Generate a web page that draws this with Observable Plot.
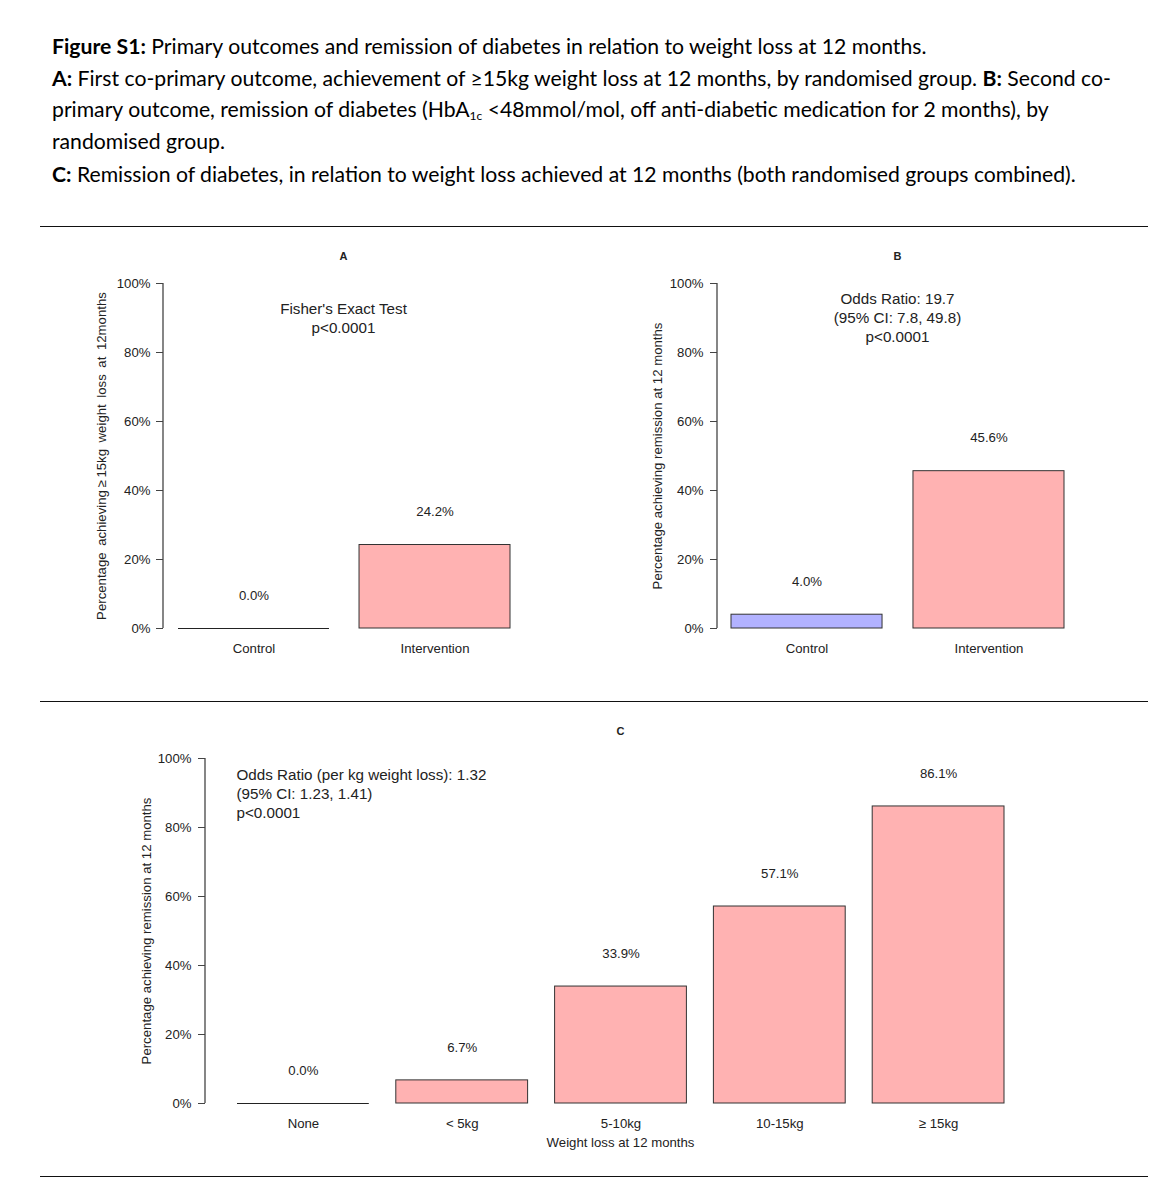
<!DOCTYPE html>
<html>
<head>
<meta charset="utf-8">
<script src="https://cdn.jsdelivr.net/npm/d3@7"></script>
<script src="https://cdn.jsdelivr.net/npm/@observablehq/plot@0.6"></script>
<style>
  html, body { margin: 0; padding: 0; background: #fff; }
  #page { position: relative; width: 1155px; height: 1179px; overflow: hidden; background: #fff; }
  #header { position: absolute; left: 52px; top: 31px; font-family: Lato, "Open Sans", sans-serif; font-size: 21.2px; line-height: 31.5px; color: #000; white-space: nowrap; }
  #header b { font-weight: 700; }
  #header .gap { height: 2px; }
  #header sub { font-size: 12px; vertical-align: -3px; line-height: 0; }
  .rule { position: absolute; left: 40px; width: 1108px; height: 0; border-top: 1.5px solid #111; }
  .panel { position: absolute; }
</style>
</head>
<body>
<div id="page">
  <div id="header">
    <div><b>Figure S1:</b> Primary outcomes and remission of diabetes in relation to weight loss at 12 months.</div>
    <div><b>A:</b> First co-primary outcome, achievement of ≥15kg weight loss at 12 months, by randomised group. <b>B:</b> Second co-</div>
    <div>primary outcome, remission of diabetes (HbA<sub>1c</sub> &lt;48mmol/mol, off anti-diabetic medication for 2 months), by</div>
    <div>randomised group.</div>
    <div class="gap"></div>
    <div><b>C:</b> Remission of diabetes, in relation to weight loss achieved at 12 months (both randomised groups combined).</div>
  </div>
  <div class="rule" style="top:226px"></div>
  <div class="rule" style="top:701px"></div>
  <div class="rule" style="top:1176px"></div>
  <div class="panel" id="pA" style="left:0px; top:230px"></div>
  <div class="panel" id="pB" style="left:578px; top:230px"></div>
  <div class="panel" id="pC" style="left:0px; top:705px"></div>
</div>
<script>
// ---- data ----
const groups = ["Control", "Intervention"];
const pctA = [0.0, 24.2];
const pctB = [4.0, 45.6];
const weightCats = ["None", "< 5kg", "5-10kg", "10-15kg", "\u2265 15kg"];
const pctC = [0.0, 6.7, 33.9, 57.1, 86.1];
const yTicks = [0, 20, 40, 60, 80, 100];
const titleYA = "Percentage\u2002achieving\u2009\u2265\u200915kg\u2002weight\u2002loss\u2002at\u200212months";
const titleYB = "Percentage achieving remission at 12 months";
const titleYC = "Percentage achieving remission at 12 months";
const titleXC = "Weight loss at 12 months";
const annA = "Fisher's Exact Test\np<0.0001";
const annB = "Odds Ratio: 19.7\n(95% CI: 7.8, 49.8)\np<0.0001";
const annC = "Odds Ratio (per kg weight loss): 1.32\n(95% CI: 1.23, 1.41)\np<0.0001";

const PINK = "#FFB2B2";
const BLUE = "#B2B2FF";
const FONT = "'Liberation Sans', Arial, Helvetica, sans-serif";
const FS = 13.2;

function rows(cats, vals) { return cats.map((c, i) => ({cat: c, pct: vals[i]})); }
const dataA = rows(groups, pctA);
const dataB = rows(groups, pctB);
const dataC = rows(weightCats, pctC);

// y-axis line drawn from the y scale (0% to 100%) at the left edge of the frame
function yAxisLine(index, scales, values, dimensions) {
  const y = scales.y;
  const x0 = dimensions.marginLeft;
  const line = document.createElementNS("http://www.w3.org/2000/svg", "line");
  line.setAttribute("x1", x0); line.setAttribute("x2", x0);
  line.setAttribute("y1", y(yTicks[0])); line.setAttribute("y2", y(yTicks[yTicks.length - 1]));
  line.setAttribute("stroke", "#444"); line.setAttribute("stroke-width", "1.3");
  return line;
}

function panel({data, width, height, marginLeft, marginRight, marginTop, marginBottom, xrange, paddingInner,
                letter, ann, annOpts, ytitle, ytitleOffset, tickPadding, xtitle, fillFn}) {
  const marks = [
    Plot.barY(data, {x: "cat", y: "pct", fill: d => fillFn(d), stroke: "#333", strokeWidth: 1}),
    Plot.tickY(data.filter(d => d.pct === 0), {x: "cat", y: "pct", stroke: "#222", strokeWidth: 1.2}),
    Plot.axisY({ticks: yTicks, tickFormat: d => d + "%", tickSize: 7, tickPadding: tickPadding, label: null, fontSize: FS, stroke: "#444"}),
    yAxisLine,
    Plot.axisX({tickSize: 0, tickPadding: 15, label: null, fontSize: FS}),
    Plot.text(data, {x: "cat", y: "pct", text: d => d.pct.toFixed(1) + "%", dy: -33, fontSize: FS}),
    Plot.text([letter], {frameAnchor: "top", dy: -31, fontWeight: "bold", fontSize: 11}),
    Plot.text([ann], {fontSize: 15.2, lineHeight: 1.25, lineAnchor: "top", ...annOpts}),
    Plot.text([ytitle], {frameAnchor: "left", textAnchor: "middle", rotate: -90, dx: -ytitleOffset, fontSize: FS})
  ];
  if (xtitle) marks.push(Plot.text([xtitle], {frameAnchor: "bottom", dy: 43, fontSize: FS}));
  return Plot.plot({
    width, height, marginLeft, marginRight, marginTop, marginBottom,
    style: {fontFamily: FONT, color: "#222", background: "transparent", overflow: "visible"},
    x: {type: "band", domain: data.map(d => d.cat), range: xrange, paddingInner, paddingOuter: 0, align: 0, round: false, axis: null},
    y: {domain: [0, 100], axis: null},
    marks
  });
}

document.getElementById("pA").appendChild(panel({
  data: dataA, width: 578, height: 440, marginLeft: 163, marginRight: 55, marginTop: 53, marginBottom: 42,
  xrange: [178, 510], paddingInner: 0.166, letter: "A", ann: annA,
  annOpts: {frameAnchor: "top", dy: 17}, ytitle: titleYA, ytitleOffset: 62, tickPadding: 6,
  fillFn: d => d.cat === "Control" ? BLUE : PINK
}));

document.getElementById("pB").appendChild(panel({
  data: dataB, width: 577, height: 440, marginLeft: 139, marginRight: 78, marginTop: 53, marginBottom: 42,
  xrange: [153, 486], paddingInner: 0.17, letter: "B", ann: annB,
  annOpts: {frameAnchor: "top", dy: 7}, ytitle: titleYB, ytitleOffset: 60, tickPadding: 7,
  fillFn: d => d.cat === "Control" ? BLUE : PINK
}));

document.getElementById("pC").appendChild(panel({
  data: dataC, width: 1155, height: 470, marginLeft: 205, marginRight: 120, marginTop: 53, marginBottom: 72,
  xrange: [237, 1004], paddingInner: 0.17, letter: "C", ann: annC,
  annOpts: {frameAnchor: "top-left", dx: 31, dy: 8, textAnchor: "start"}, ytitle: titleYC, ytitleOffset: 59, tickPadding: 7,
  xtitle: titleXC, fillFn: d => PINK
}));
</script>
</body>
</html>
